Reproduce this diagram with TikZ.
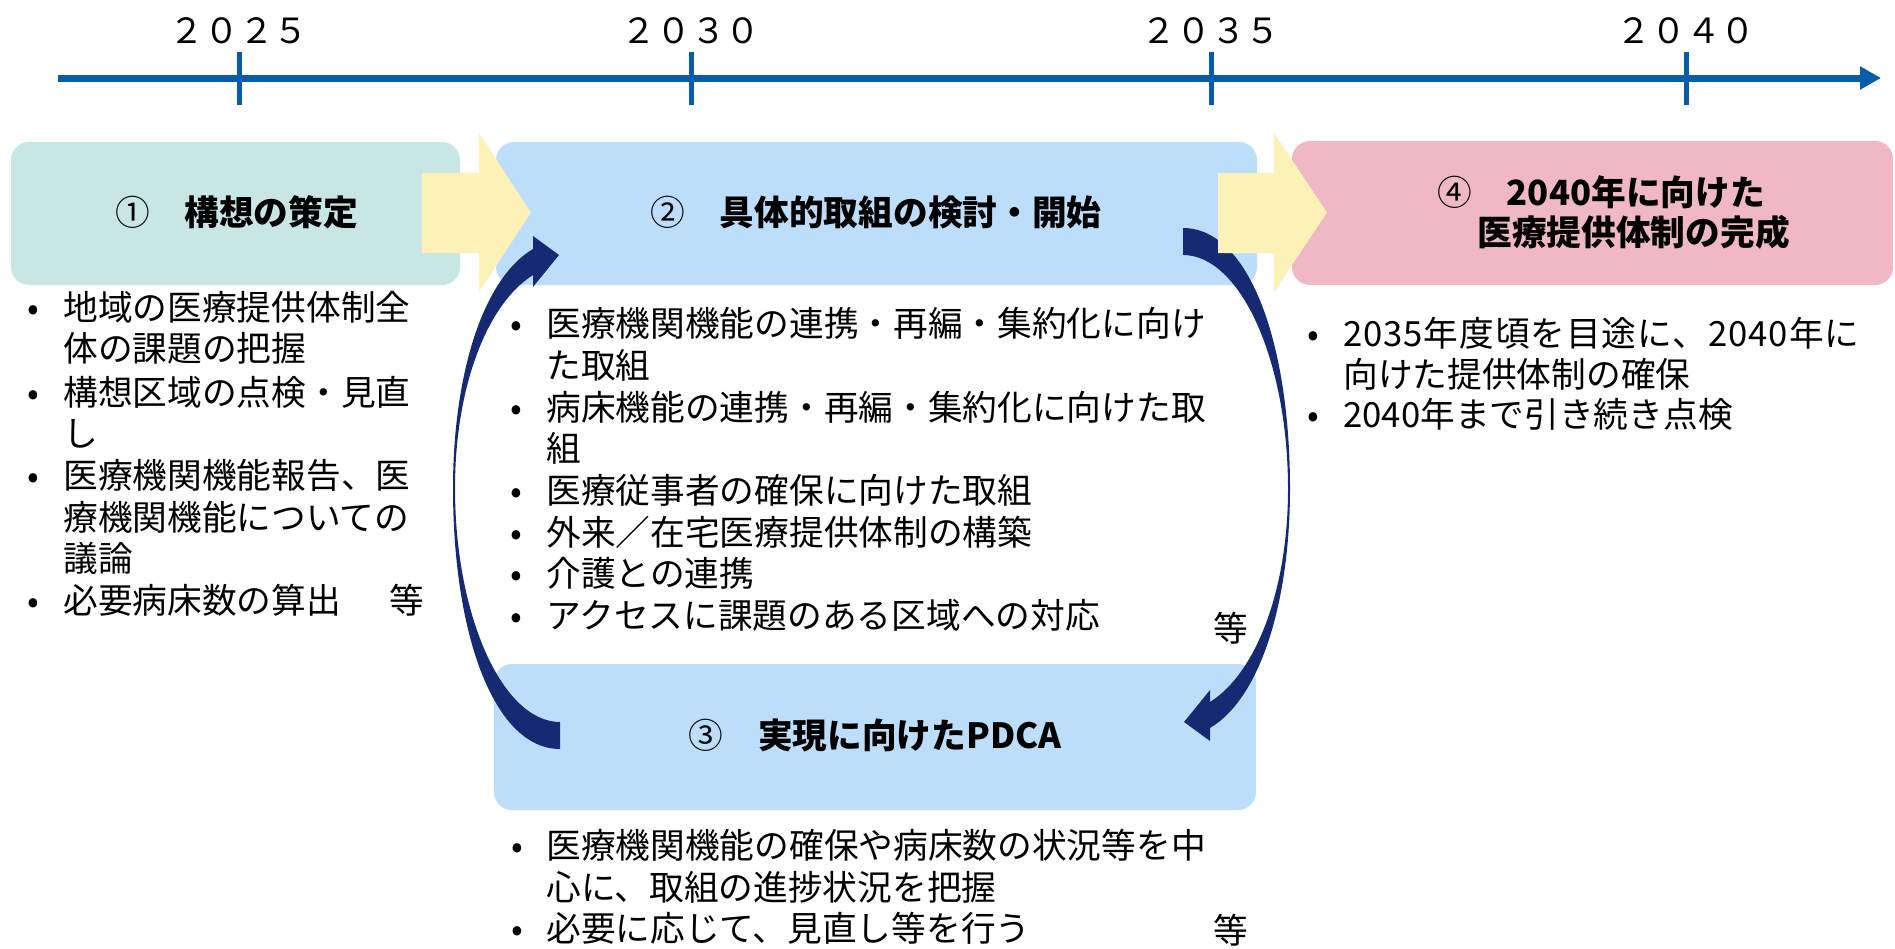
\documentclass[tikz,border=0pt]{standalone}
\usepackage{fontspec}
\setmainfont{Noto Sans CJK JP}
\usetikzlibrary{arrows.meta}
\newdimen\px \px=0.5pt
\definecolor{tlblue}{RGB}{8,92,172}
\definecolor{tealbox}{RGB}{200,230,228}
\definecolor{bluebox}{RGB}{189,222,251}
\definecolor{pinkbox}{RGB}{240,184,196}
\definecolor{yelarrow}{RGB}{252,241,182}
\definecolor{navyarrow}{RGB}{22,42,115}
% spread characters of a line evenly over a given width
\def\stopstretch{}
\def\spreadgobble#1{}
\def\spreadchars#1{#1\futurelet\spreadnext\spreadcheck}
\def\spreadcheck{\ifx\spreadnext\stopstretch\expandafter\spreadgobble\else\hfil\expandafter\spreadchars\fi}
\newcommand\spreadto[2]{\hbox to #1{\spreadchars#2\stopstretch}}
\begin{document}
\begin{tikzpicture}[x=0.5pt,y=-0.5pt,
  txt/.style={inner sep=0pt, font=\fontsize{17.35pt}{20.85pt}\selectfont},
  lst/.style={txt, anchor=base west},
  bul/.style={txt, anchor=base},
  ttl/.style={txt, anchor=base, font=\fontsize{17.35pt}{20.85pt}\selectfont\bfseries},
  yr/.style={txt, anchor=base},
  box/.style={draw=none, rounded corners=9pt, inner sep=0pt},
  tick/.style={draw=tlblue, line width=2.5pt},
  navyshape/.style={fill=navyarrow},
  yelshape/.style={fill=yelarrow}]
\useasboundingbox (0,0) rectangle (1895,948);
\fill[white] (0,0) rectangle (1895,948);

% timeline
\coordinate (tl0) at (58,78);
\coordinate (tl1) at (1881,78);
\draw[tlblue, line width=3.5pt, -{Triangle[length=10.5pt,width=11pt]}] (tl0) -- (tl1);
\foreach \x/\n in {239/a,691/b,1211/c,1686/d}{
  \coordinate (tk\n1) at (\x,52);
  \coordinate (tk\n2) at (\x,105);
  \draw[tick] (tk\n1) -- (tk\n2);
}
\node[yr] (y2025) at (239,43) {２０２５};
\node[yr] (y2030) at (691,43) {２０３０};
\node[yr] (y2035) at (1211,43) {２０３５};
\node[yr] (y2040) at (1686,43) {２０４０};

% boxes
\node[box, fill=tealbox, minimum width=449\px, minimum height=143\px] (b1) at (235.5,213.5) {};
\node[box, fill=bluebox, minimum width=761\px, minimum height=143\px] (b2) at (876.5,213.5) {};
\node[box, fill=bluebox, minimum width=762\px, minimum height=146\px] (b3) at (875,737) {};
\node[box, fill=pinkbox, minimum width=601\px, minimum height=144\px] (b4) at (1592.5,213) {};

% navy curved arrows (right one, and its point reflection)
\def\curvedarrow{(1183,228) .. controls (1248,228) and (1290,340) .. (1290,489)
  .. controls (1290,599) and (1261.6,697.4) .. (1210,728) -- (1210,741) -- (1184,722)
  -- (1210,690) -- (1210,702) .. controls (1256.5,672.6) and (1288,589) .. (1288,489)
  .. controls (1288,360) and (1240,255) .. (1183,255) -- cycle}
\path[navyshape] \curvedarrow;
\begin{scope}[rotate around={180:(871.5,488.5)}]
\path[navyshape] \curvedarrow;
\end{scope}

% yellow block arrows
\path[yelshape] (422,173) -- (479,173) -- (479,133) -- (531,212.5) -- (479,292) -- (479,253) -- (422,253) -- cycle;
\path[yelshape] (1218,173) -- (1274,173) -- (1274,133) -- (1327,212.5) -- (1274,292) -- (1274,253) -- (1218,253) -- cycle;

% titles
\node[ttl] (t1) at (236.5,225) {{\mdseries ①}　構想の策定};
\node[ttl] (t2) at (876,225) {{\mdseries ②}　具体的取組の検討・開始};
\node[ttl] (t3) at (875,748) {{\mdseries ③}　実現に向けたPDCA};
\node[ttl, anchor=base west] (t4a) at (1437,205) {{\mdseries ④}　2040年に向けた};
\node[ttl, anchor=base west] (t4b) at (1477,245) {医療提供体制の完成};

% list 1
\node[bul] (p1a) at (33,320) {•};
\node[lst] (l1a) at (63,320) {地域の医療提供体制全};
\node[lst] (l1b) at (63,361) {体の課題の把握};
\node[bul] (p1c) at (33,405) {•};
\node[lst] (l1c) at (63,405) {構想区域の点検・見直};
\node[lst] (l1d) at (63,446) {し};
\node[bul] (p1e) at (33,488) {•};
\node[lst] (l1e) at (63,488) {医療機関機能報告、医};
\node[lst] (l1f) at (63,530) {療機関機能についての};
\node[lst] (l1g) at (63,571) {議論};
\node[bul] (p1h) at (33,613) {•};
\node[lst] (l1h) at (63,613) {必要病床数の算出};
\node[lst] (l1i) at (389,613) {等};

% list 2
\node[bul] (p2a) at (516,336) {•};
\node[lst] (l2a) at (546,336) {\spreadto{329.5pt}{医療機関機能の連携・再編・集約化に向け}};
\node[lst] (l2b) at (546,378) {た取組};
\node[bul] (p2c) at (516,420) {•};
\node[lst] (l2c) at (546,420) {\spreadto{329.5pt}{病床機能の連携・再編・集約化に向けた取}};
\node[lst] (l2d) at (546,461) {組};
\node[bul] (p2e) at (516,503) {•};
\node[lst] (l2e) at (546,503) {医療従事者の確保に向けた取組};
\node[bul] (p2f) at (516,545) {•};
\node[lst] (l2f) at (546,545) {外来／在宅医療提供体制の構築};
\node[bul] (p2g) at (516,586) {•};
\node[lst] (l2g) at (546,586) {介護との連携};
\node[bul] (p2h) at (516,628) {•};
\node[lst] (l2h) at (546,628) {アクセスに課題のある区域への対応};
\node[lst] (l2i) at (1213,641) {等};

% list 3
\node[bul] (p3a) at (517,858) {•};
\node[lst] (l3a) at (546,858) {医療機関機能の確保や病床数の状況等を中};
\node[lst] (l3b) at (546,900) {心に、取組の進捗状況を把握};
\node[bul] (p3c) at (517,941) {•};
\node[lst] (l3c) at (546,941) {必要に応じて、見直し等を行う};
\node[lst] (l3d) at (1213,943) {等};

% list 4
\node[bul] (p4a) at (1313,346) {•};
\node[lst] (l4a) at (1343,346) {\spreadto{258pt}{2035年度頃を目途に、2040年に}};
\node[lst] (l4b) at (1343,387) {向けた提供体制の確保};
\node[bul] (p4c) at (1313,427) {•};
\node[lst] (l4c) at (1343,427) {2040年まで引き続き点検};
\end{tikzpicture}
\end{document}
